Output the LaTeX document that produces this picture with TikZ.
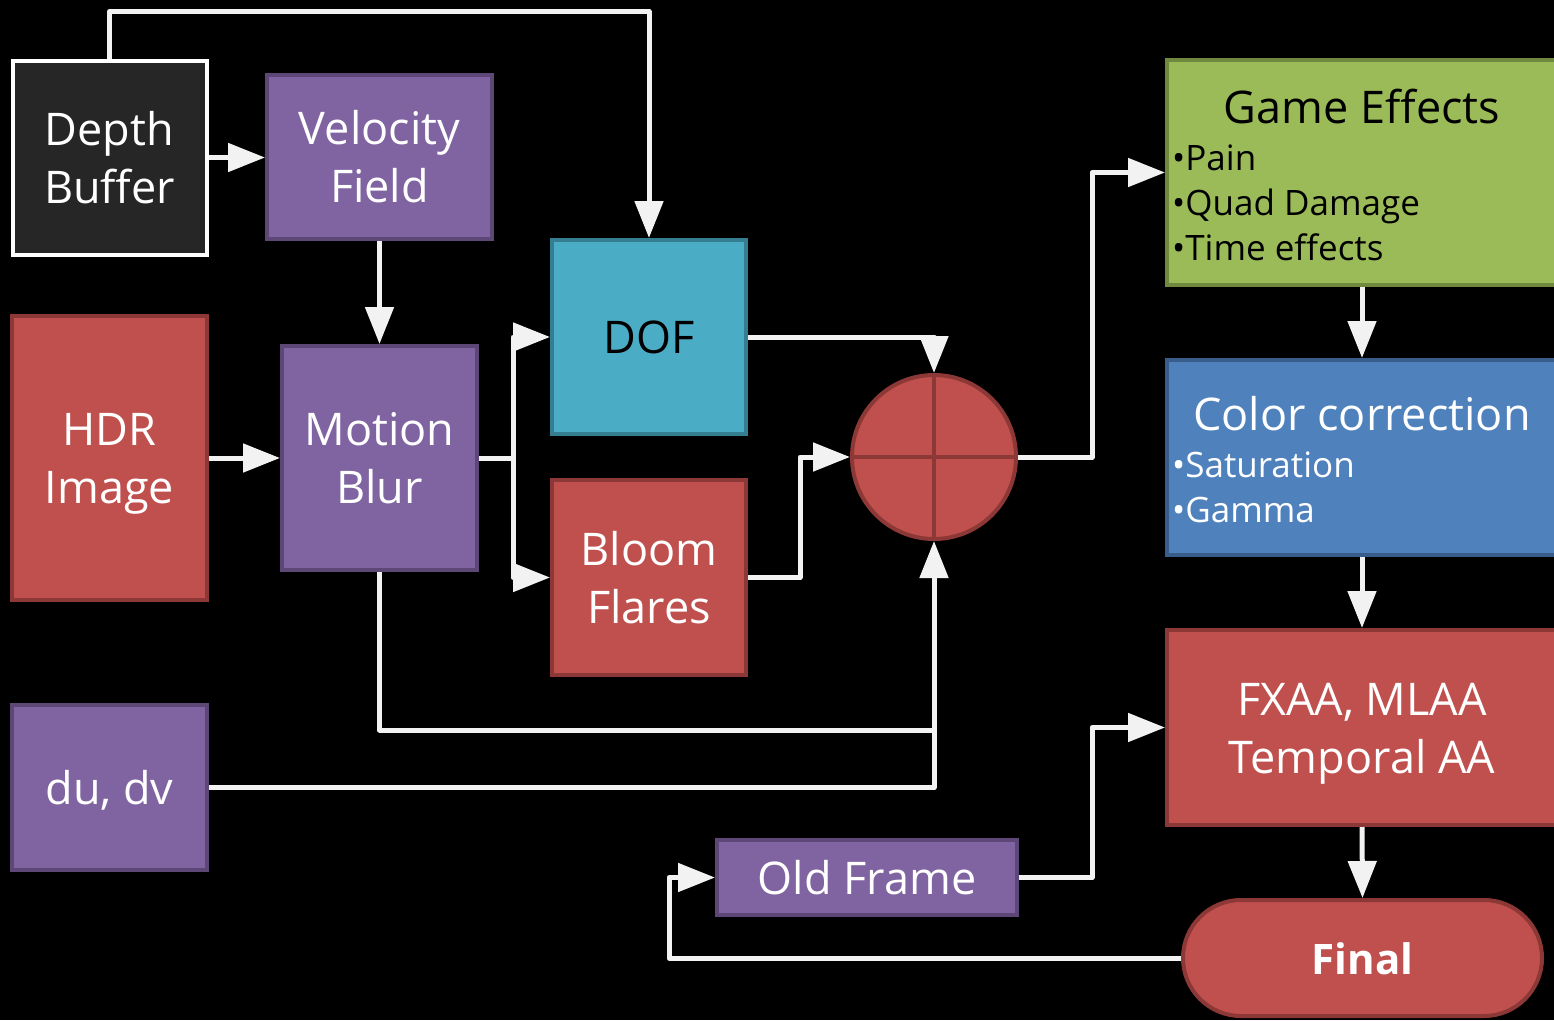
\documentclass[tikz,border=0pt]{standalone}
\usepackage{fontspec}
\setmainfont{Open Sans}
\usetikzlibrary{arrows.meta,shapes.misc}

\definecolor{wire}{HTML}{F2F2F2}
\definecolor{purpleF}{HTML}{8064A2}
\definecolor{purpleD}{HTML}{5C4776}
\definecolor{redF}{HTML}{C0504D}
\definecolor{redD}{HTML}{8C3836}
\definecolor{tealF}{HTML}{4BACC6}
\definecolor{tealD}{HTML}{357D91}
\definecolor{greenF}{HTML}{9BBB59}
\definecolor{greenD}{HTML}{71893F}
\definecolor{blueF}{HTML}{4F81BD}
\definecolor{blueD}{HTML}{385D8A}
\definecolor{darkF}{HTML}{262626}

% fixed 58pt line pitch, never widened by tall struts
\newcommand\boxfont{\fontsize{45}{58}\selectfont\lineskiplimit=-100pt\relax}
\newcommand\listfont{\fontsize{35}{45}\selectfont}
% uniform line box (taller and deeper than any glyph) so every label sits alike
\newcommand\lnstrut{\rule[-15pt]{0pt}{63pt}}

\tikzset{
  box/.style={line width=4pt, inner sep=0pt, align=center, text=white, font=\boxfont},
  pbox/.style={box, draw=purpleD, fill=purpleF},
  rbox/.style={box, draw=redD, fill=redF},
  tbox/.style={box, draw=tealD, fill=tealF, text=black},
  gbox/.style={box, draw=greenD, fill=greenF},
  bbox/.style={box, draw=blueD, fill=blueF},
  dbox/.style={box, draw=white, fill=darkF},
  wline/.style={draw=wire, line width=5pt, line join=round},
  conn/.style={wline, -{Triangle[length=37pt,width=28pt]}},
  item/.style={anchor=base west, inner sep=0pt, font=\listfont},
}

\begin{document}
\begin{tikzpicture}[x=1pt,y=-1pt]
  \fill[black] (0,0) rectangle (1554,1020);
  \useasboundingbox (0,0) rectangle (1554,1020);

  % left column
  \node[dbox, minimum width=194, minimum height=194] (depth) at (109.5,157.5) {\lnstrut Depth\\\lnstrut Buffer};
  \node[rbox, minimum width=195, minimum height=284] (hdr) at (109.5,458) {\lnstrut HDR\\\lnstrut Image};
  \node[pbox, minimum width=195, minimum height=165] (du) at (109.5,787.5) {\lnstrut du, dv};

  % velocity and motion blur
  \node[pbox, minimum width=225, minimum height=164] (vel) at (379.5,157) {\lnstrut Velocity\\\lnstrut Field};
  \node[pbox, minimum width=195, minimum height=224] (mb) at (379.5,458) {\lnstrut Motion\\\lnstrut Blur};

  % DOF and bloom
  \node[tbox, minimum width=194, minimum height=194] (dof) at (649,337) {\lnstrut DOF};
  \node[rbox, minimum width=194, minimum height=195] (bloom) at (649,577.5) {\lnstrut Bloom\\\lnstrut Flares};

  % combine
  \node[circle, draw=redD, fill=redF, line width=4pt, minimum size=164, inner sep=0pt] (sum) at (934,457) {};
  \draw[redD, line width=4pt] (sum.north) -- (sum.south) (sum.west) -- (sum.east);

  % right column
  \node[gbox, minimum width=390, minimum height=225] (game) at (1362,172.5) {};
  \node[text=black, anchor=base, inner sep=0pt, font=\boxfont] (gtitle) at (1362,123) {Game Effects};
  \node[item, text=black] (g1) at (1172,170) {•Pain};
  \node[item, text=black] (g2) at (1172,215) {•Quad Damage};
  \node[item, text=black] (g3) at (1172,260) {•Time effects};

  \node[bbox, minimum width=390, minimum height=195] (color) at (1362,457.5) {};
  \node[text=white, anchor=base, inner sep=0pt, font=\boxfont] (ctitle) at (1362,430) {Color correction};
  \node[item, text=white] (c1) at (1172,477) {•Saturation};
  \node[item, text=white] (c2) at (1172,522) {•Gamma};

  \node[rbox, minimum width=390, minimum height=195] (fxaa) at (1362,727.5) {\lnstrut FXAA, MLAA\\\lnstrut Temporal AA};
  \node[rounded rectangle, draw=redD, fill=redF, line width=4pt, text=white,
        minimum width=359, minimum height=116, inner sep=0pt,
        font=\fontsize{42}{50}\selectfont\bfseries] (final) at (1362.5,958) {\lnstrut Final};
  \node[pbox, minimum width=300, minimum height=75] (old) at (867,877.5) {\lnstrut Old Frame};

  % connectors
  \coordinate (split) at (513,458);
  \coordinate (join) at (934,730);

  \draw[conn] (depth.north) -- ++(0,-47) -| (dof.north);
  \draw[conn] (depth.east) -- (depth.east -| vel.west);
  \draw[conn] (vel.south) -- (mb.north);
  \draw[conn] (hdr.east) -- (mb.west);
  \draw[wline] (mb.east) -- (split);
  \draw[conn] (split) |- (dof.west);
  \draw[conn] (split) |- (bloom.west);
  \draw[conn] (dof.east) -| (sum.north);
  \draw[conn] (bloom.east) -- ++(52,0) |- (sum.west);
  \draw[wline] (mb.south) |- (join);
  \draw[conn] (du.east) -| (sum.south);
  \draw[conn] (sum.east) -- ++(74,0) |- (game.west);
  \draw[conn] (game.south) -- (color.north);
  \draw[conn] (color.south) -- (fxaa.north);
  \draw[conn] (fxaa.south) -- (final.north);
  \draw[conn] (old.east) -- ++(73,0) |- (fxaa.west);
  \draw[conn] (final.west) -| ([xshift=-46]old.west) -- (old.west);
\end{tikzpicture}
\end{document}
